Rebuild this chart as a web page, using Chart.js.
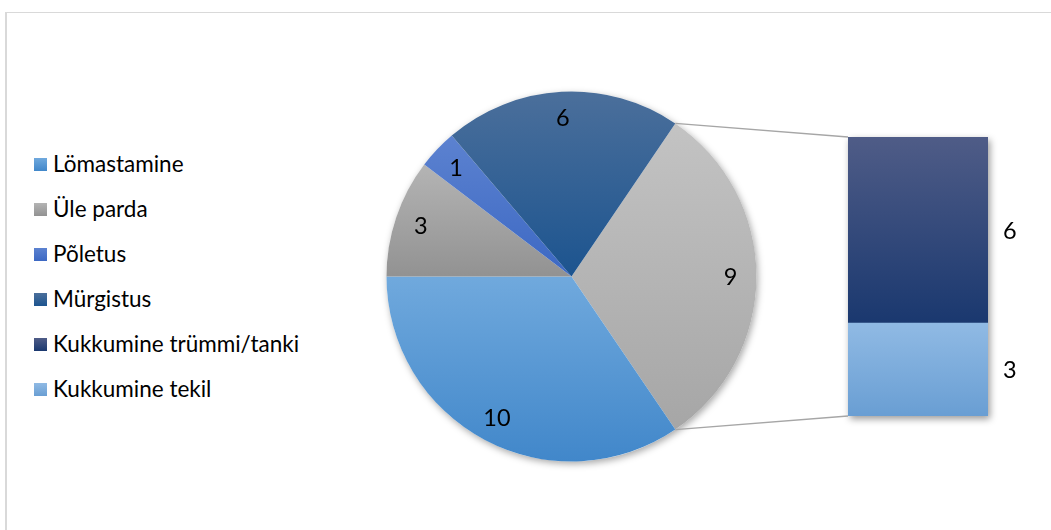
<!DOCTYPE html>
<html>
<head>
<meta charset="utf-8">
<script src="https://cdn.jsdelivr.net/npm/chart.js@4"></script>
<style>
  html, body { margin: 0; padding: 0; background: #fff; width: 1051px; height: 530px; overflow: hidden; }
  #frame { position: absolute; left: 5px; top: 12px; width: 1100px; height: 600px;
           border-top: 1px solid #d9d9d9; border-left: 2px solid #d9d9d9; }
  canvas { position: absolute; }
  #legend { position: absolute; left: 34px; top: 0; font-family: Lato, "Open Sans", sans-serif;
            font-size: 22.5px; color: #000; }
  .item { position: absolute; left: 0; height: 24px; line-height: 24px; white-space: nowrap; }
  .box { position: absolute; left: 0; top: 6px; width: 13px; height: 13px; }
  .text { position: absolute; left: 19px; top: 0; }
</style>
</head>
<body>
<div id="frame"></div>
<div id="legend"></div>
<canvas id="pie" width="423" height="423" style="left:360px;top:65px;"></canvas>
<canvas id="bar" width="231" height="330" style="left:820px;top:115px;"></canvas>
<canvas id="links" width="1051" height="530" style="left:0;top:0;pointer-events:none;"></canvas>
<script>
// Main pie categories and counts
const pieLabels = ['Lömastamine', 'Üle parda', 'Põletus', 'Mürgistus'];
const pieValues = [10, 3, 1, 6];

// Categories split out into the secondary bar (top segment first)
const barLabels = ['Kukkumine trümmi/tanki', 'Kukkumine tekil'];
const barValues = [6, 3];

// Gradient colours [top, bottom]
const pieShades = [
  ['#70a9dd', '#4187ca'],
  ['#b4b4b4', '#929292'],
  ['#5c82d0', '#3c68c3'],
  ['#4b6f9b', '#1c548f']
];
const otherShade = ['#c3c3c3', '#a6a6a6'];
const barShades = [
  ['#4f5c87', '#1a386f'],
  ['#90bae4', '#699ed3']
];

const FONT = 'Lato, "Open Sans", sans-serif';
const LABEL_FONT = '23.5px ' + FONT;
const otherTotal = barValues.reduce((a, b) => a + b, 0);
const allValues = [otherTotal, ...pieValues];
const grandTotal = allValues.reduce((a, b) => a + b, 0);
// the combined slice is centred on the right-hand side
const startRotation = 90 - (otherTotal / grandTotal) * 180;

// ---- legend ----
const legendItems = [
  ...pieLabels.map((l, i) => [l, pieShades[i]]),
  ...barLabels.map((l, i) => [l, barShades[i]])
];
const legend = document.getElementById('legend');
legendItems.forEach(([label, shade], i) => {
  const item = document.createElement('div');
  item.className = 'item';
  item.style.top = (151.5 + i * 45) + 'px';
  const box = document.createElement('div');
  box.className = 'box';
  box.style.background = `linear-gradient(${shade[0]}, ${shade[1]})`;
  const text = document.createElement('span');
  text.className = 'text';
  text.textContent = label;
  item.appendChild(box);
  item.appendChild(text);
  legend.appendChild(item);
});

// vertical gradient across a pie sector's own bounding box
function sectorGradient(ctx, shade) {
  const el = ctx.element;
  if (!el || !el.outerRadius) return shade[1];
  const { x, y, startAngle, endAngle, outerRadius: r } = el;
  const ys = [y, y + Math.sin(startAngle) * r, y + Math.sin(endAngle) * r];
  for (const a of [-Math.PI / 2, Math.PI / 2, 3 * Math.PI / 2, 5 * Math.PI / 2]) {
    if (a > startAngle && a < endAngle) ys.push(y + Math.sin(a) * r);
  }
  const g = ctx.chart.ctx.createLinearGradient(0, Math.min(...ys), 0, Math.max(...ys));
  g.addColorStop(0, shade[0]);
  g.addColorStop(1, shade[1]);
  return g;
}

function barGradient(ctx, shade) {
  const el = ctx.element;
  if (!el || el.base === undefined || !isFinite(el.y)) return shade[1];
  const g = ctx.chart.ctx.createLinearGradient(0, el.y, 0, el.base);
  g.addColorStop(0, shade[0]);
  g.addColorStop(1, shade[1]);
  return g;
}

const allShades = [otherShade, ...pieShades];

// soft drop shadow under the whole pie
const pieShadow = {
  id: 'pieShadow',
  beforeDatasetsDraw(chart) {
    const el = chart.getDatasetMeta(0).data[0];
    if (!el || !el.outerRadius) return;
    const c = chart.ctx;
    c.save();
    c.shadowColor = 'rgba(0,0,0,0.35)';
    c.shadowBlur = 7;
    c.shadowOffsetX = 1.5;
    c.shadowOffsetY = 2.5;
    c.beginPath();
    c.arc(el.x, el.y, el.outerRadius, 0, Math.PI * 2);
    c.fillStyle = '#ffffff';
    c.fill();
    c.restore();
  }
};

// value labels near the outer end of each slice
const pieLabelsPlugin = {
  id: 'pieValueLabels',
  afterDatasetsDraw(chart) {
    const meta = chart.getDatasetMeta(0);
    const data = chart.data.datasets[0].data;
    const c = chart.ctx;
    c.save();
    c.font = LABEL_FONT;
    c.fillStyle = '#000';
    c.textAlign = 'center';
    c.textBaseline = 'middle';
    meta.data.forEach((el, i) => {
      const mid = (el.startAngle + el.endAngle) / 2;
      const d = el.outerRadius * 0.86;
      c.fillText(String(data[i]), el.x + Math.cos(mid) * d, el.y + Math.sin(mid) * d + 1);
    });
    c.restore();
  }
};

const pieChart = new Chart(document.getElementById('pie'), {
  type: 'pie',
  data: {
    labels: ['Muu', ...pieLabels],
    datasets: [{
      data: allValues,
      borderWidth: 0,
      backgroundColor: (ctx) => sectorGradient(ctx, allShades[ctx.dataIndex])
    }]
  },
  options: {
    responsive: false,
    animation: false,
    rotation: startRotation,
    layout: { padding: 26.5 },
    events: [],
    plugins: { legend: { display: false }, tooltip: { enabled: false } }
  },
  plugins: [pieShadow, pieLabelsPlugin]
});
pieChart.update();

// drop shadow under the stacked column
const barShadow = {
  id: 'barShadow',
  beforeDatasetsDraw(chart) {
    const bottom = chart.getDatasetMeta(0).data[0];
    const top = chart.getDatasetMeta(1).data[0];
    if (!bottom || !top || !isFinite(top.y)) return;
    const c = chart.ctx;
    c.save();
    c.shadowColor = 'rgba(0,0,0,0.4)';
    c.shadowBlur = 7;
    c.shadowOffsetX = 2;
    c.shadowOffsetY = 3;
    c.fillStyle = '#ffffff';
    c.fillRect(top.x - top.width / 2, top.y, top.width, bottom.base - top.y);
    c.restore();
  }
};

const barLabelsPlugin = {
  id: 'barValueLabels',
  afterDatasetsDraw(chart) {
    const c = chart.ctx;
    c.save();
    c.font = LABEL_FONT;
    c.fillStyle = '#000';
    c.textAlign = 'left';
    c.textBaseline = 'middle';
    chart.data.datasets.forEach((ds, di) => {
      const el = chart.getDatasetMeta(di).data[0];
      c.fillText(String(ds.data[0]), el.x + el.width / 2 + 15, (el.y + el.base) / 2 + 1);
    });
    c.restore();
  }
};

const barChart = new Chart(document.getElementById('bar'), {
  type: 'bar',
  data: {
    labels: [''],
    datasets: [
      { label: barLabels[1], data: [barValues[1]],
        backgroundColor: (ctx) => barGradient(ctx, barShades[1]) },
      { label: barLabels[0], data: [barValues[0]],
        backgroundColor: (ctx) => barGradient(ctx, barShades[0]) }
    ]
  },
  options: {
    responsive: false,
    animation: false,
    events: [],
    layout: { padding: { left: 28, right: 63, top: 22, bottom: 29 } },
    datasets: { bar: { barPercentage: 1, categoryPercentage: 1, borderWidth: 0 } },
    scales: {
      x: { display: false, stacked: true },
      y: { display: false, stacked: true, min: 0, max: otherTotal }
    },
    plugins: { legend: { display: false }, tooltip: { enabled: false } }
  },
  plugins: [barShadow, barLabelsPlugin]
});
barChart.update();

// connector lines from the combined slice to the column
(function drawLinks() {
  const pieCanvas = document.getElementById('pie');
  const barCanvas = document.getElementById('bar');
  const pieOff = { x: pieCanvas.offsetLeft, y: pieCanvas.offsetTop };
  const barOff = { x: barCanvas.offsetLeft, y: barCanvas.offsetTop };
  const slice = pieChart.getDatasetMeta(0).data[0];
  const topSeg = barChart.getDatasetMeta(1).data[0];
  const botSeg = barChart.getDatasetMeta(0).data[0];
  const p1 = { x: pieOff.x + slice.x + Math.cos(slice.startAngle) * slice.outerRadius,
               y: pieOff.y + slice.y + Math.sin(slice.startAngle) * slice.outerRadius };
  const p2 = { x: pieOff.x + slice.x + Math.cos(slice.endAngle) * slice.outerRadius,
               y: pieOff.y + slice.y + Math.sin(slice.endAngle) * slice.outerRadius };
  const left = barOff.x + topSeg.x - topSeg.width / 2;
  const b1 = { x: left, y: barOff.y + topSeg.y };
  const b2 = { x: left, y: barOff.y + botSeg.base };
  const c = document.getElementById('links').getContext('2d');
  c.strokeStyle = '#a6a6a6';
  c.lineWidth = 1.3;
  c.beginPath();
  c.moveTo(p1.x, p1.y); c.lineTo(b1.x, b1.y);
  c.moveTo(p2.x, p2.y); c.lineTo(b2.x, b2.y);
  c.stroke();
})();
</script>
</body>
</html>
